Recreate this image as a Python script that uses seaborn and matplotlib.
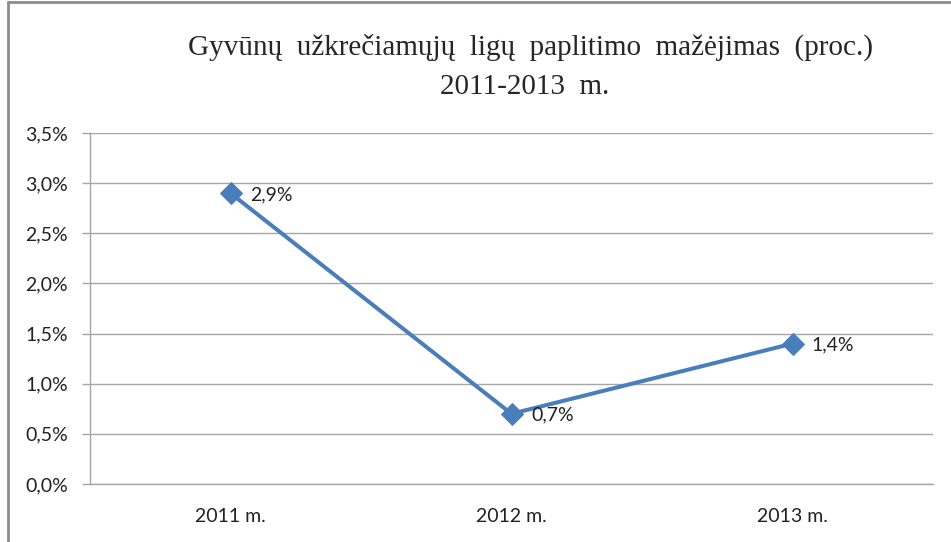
import pandas as pd
import matplotlib.pyplot as plt
import seaborn as sns
from matplotlib.lines import Line2D
from matplotlib.ticker import FixedLocator

# data
years = ["2011 m.", "2012 m.", "2013 m."]
values = [2.9, 0.7, 1.4]
labels = ["2,9%", "0,7%", "1,4%"]
y_ticks = [0.0, 0.5, 1.0, 1.5, 2.0, 2.5, 3.0, 3.5]
y_tick_labels = ["0,0%", "0,5%", "1,0%", "1,5%", "2,0%", "2,5%", "3,0%", "3,5%"]

df = pd.DataFrame({"pos": range(len(years)), "value": values})

sns.set_style("white")
plt.rcParams["font.family"] = ["Lato", "DejaVu Sans"]

fig = plt.figure(figsize=(9.51, 5.42), dpi=100)
ax = fig.add_axes([90 / 951, 1 - 484 / 542, (933 - 90) / 951, (484 - 133) / 542])

grid_color = "#a6a6a6"
line_color = "#4a7ebb"
text_color = "#222222"

sns.lineplot(data=df, x="pos", y="value", ax=ax, color=line_color, linewidth=2.9,
             marker="D", markersize=11, markeredgecolor=line_color, zorder=3)

for x, y, txt in zip(df["pos"], df["value"], labels):
    ax.annotate(txt, (x, y), xytext=(14, -1), textcoords="offset points",
                va="center", ha="left", fontsize=14, color=text_color)

ax.set_xlim(-0.5, len(years) - 0.5)
ax.set_ylim(0, 3.5)
ax.set_yticks(y_ticks)
ax.set_yticklabels(y_tick_labels, fontsize=14, color=text_color)
ax.set_xticks(range(len(years)))
ax.set_xticklabels(years, fontsize=14, color=text_color)
ax.tick_params(axis="x", which="major", length=0, pad=17)
ax.xaxis.set_minor_locator(FixedLocator([i - 0.5 for i in range(len(years) + 1)]))
ax.tick_params(axis="x", which="minor", length=6, color=grid_color, width=1)
ax.tick_params(axis="y", which="major", length=6, color=grid_color, width=1, pad=10, left=True)
ax.yaxis.grid(True, color=grid_color, linewidth=1)
ax.set_axisbelow(True)
for side in ["top", "right"]:
    ax.spines[side].set_visible(False)
for side in ["left", "bottom"]:
    ax.spines[side].set_color(grid_color)
    ax.spines[side].set_linewidth(1)
ax.set_xlabel("")
ax.set_ylabel("")

serif = ["Liberation Serif", "DejaVu Serif"]
fig.text(530 / 951, 1 - 47 / 542, "Gyvūnų  užkrečiamųjų  ligų  paplitimo  mažėjimas  (proc.)",
         ha="center", va="center", fontsize=21, family=serif)
fig.text(525 / 951, 1 - 87 / 542, "2011-2013  m.",
         ha="center", va="center", fontsize=21, family=serif)

# outer chart frame (top and left edges visible in the crop)
fig.add_artist(Line2D([8 / 951, 1], [1 - 2 / 542, 1 - 2 / 542], color="#8c8c8c", linewidth=2))
fig.add_artist(Line2D([8 / 951, 8 / 951], [0, 1 - 2 / 542], color="#8c8c8c", linewidth=2))

fig.savefig("out.png", dpi=100)
